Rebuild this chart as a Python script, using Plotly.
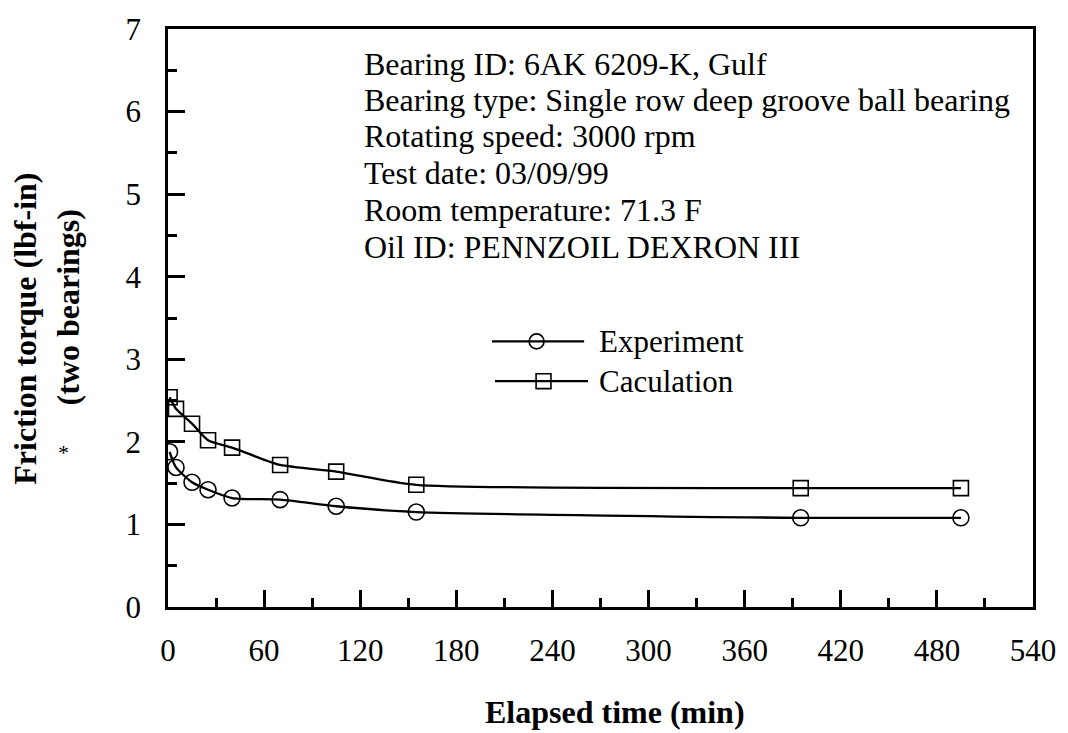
import plotly.graph_objects as go

# Data
time_exp = [1, 5, 15, 25, 40, 70, 105, 155, 395, 495]
torque_exp = [1.88, 1.69, 1.51, 1.42, 1.32, 1.30, 1.22, 1.15, 1.08, 1.08]
time_calc = [1, 5, 15, 25, 40, 70, 105, 155, 395, 495]
torque_calc = [2.54, 2.40, 2.22, 2.02, 1.93, 1.72, 1.64, 1.48, 1.44, 1.44]
info_lines = [
    "Bearing ID: 6AK 6209-K, Gulf",
    "Bearing type: Single row deep groove ball bearing",
    "Rotating speed: 3000 rpm",
    "Test date: 03/09/99",
    "Room temperature: 71.3 F",
    "Oil ID: PENNZOIL DEXRON III",
]
legend_names = ["Experiment", "Caculation"]

FONT = "Liberation Serif, Times New Roman, serif"
W, H = 1068, 733
L, R, T, B = 168, 1068 - 1041, 26, 733 - 607
PW, PH = W - L - R, H - T - B

def px(x):
    return (x - L) / PW

def py(y):
    return (H - B - y) / PH

fig = go.Figure()
fig.add_trace(go.Scatter(
    x=time_exp, y=torque_exp, mode="lines+markers", name=legend_names[0],
    line=dict(color="black", width=2.3, shape="spline", smoothing=0.6),
    marker=dict(symbol="circle-open", size=16, color="black", line=dict(width=1.6)),
    showlegend=False,
))
fig.add_trace(go.Scatter(
    x=time_calc, y=torque_calc, mode="lines+markers", name=legend_names[1],
    line=dict(color="black", width=2.3, shape="spline", smoothing=0.6),
    marker=dict(symbol="square-open", size=15, color="black", line=dict(width=1.6)),
    showlegend=False,
))

shapes = []
annotations = []

# manual legend
leg_rows = [(340, 495, 588, 540, "circle"), (380, 498, 592, 547, "rect")]
for (yy, x0, x1, xm, kind), name in zip(leg_rows, legend_names):
    shapes.append(dict(type="line", xref="paper", yref="paper",
                       x0=px(x0), x1=px(x1), y0=py(yy), y1=py(yy),
                       line=dict(color="black", width=2.3)))
    r = 7.5
    shapes.append(dict(type=kind, xref="paper", yref="paper",
                       x0=px(xm - r), x1=px(xm + r), y0=py(yy + r), y1=py(yy - r),
                       line=dict(color="black", width=1.6), fillcolor="rgba(0,0,0,0)"))
    annotations.append(dict(xref="paper", yref="paper", x=px(601), y=py(yy),
                            xanchor="left", yanchor="middle", showarrow=False,
                            text=name, font=dict(family=FONT, size=31, color="black")))

# info text block
row_y = [61, 97, 134, 171, 208, 245]
for yy, txt in zip(row_y, info_lines):
    annotations.append(dict(xref="paper", yref="paper", x=px(364), y=py(yy),
                            xanchor="left", yanchor="middle", showarrow=False,
                            text=txt, font=dict(family=FONT, size=32, color="black")))

# axis titles
annotations.append(dict(xref="paper", yref="paper", x=px(619), y=py(713),
                        xanchor="center", yanchor="middle", showarrow=False,
                        text="<b>Elapsed time (min)</b>",
                        font=dict(family=FONT, size=32, color="black")))
annotations.append(dict(xref="paper", yref="paper", x=px(24), y=py(327),
                        xanchor="center", yanchor="middle", showarrow=False, textangle=-90,
                        text="<b>Friction torque (lbf-in)</b>",
                        font=dict(family=FONT, size=32, color="black")))
annotations.append(dict(xref="paper", yref="paper", x=px(67), y=py(306),
                        xanchor="center", yanchor="middle", showarrow=False, textangle=-90,
                        text="<b>(two bearings)</b>",
                        font=dict(family=FONT, size=32, color="black")))
annotations.append(dict(xref="paper", yref="paper", x=px(63), y=py(452),
                        xanchor="center", yanchor="middle", showarrow=False,
                        text="*", font=dict(family=FONT, size=22, color="black")))

axis_common = dict(
    showline=True, linecolor="black", linewidth=2.5, mirror=True,
    ticks="inside", ticklen=17, tickwidth=2.5, tickcolor="black",
    showgrid=False, zeroline=False,
    tickfont=dict(family=FONT, size=31, color="black"),
)
fig.update_xaxes(range=[0, 540], tick0=0, dtick=60, ticklabelstandoff=14,
                 minor=dict(dtick=30, ticks="inside", ticklen=9, tickwidth=2.5, tickcolor="black"),
                 **axis_common)
fig.update_yaxes(range=[0, 7], tick0=0, dtick=1, ticklabelstandoff=18,
                 minor=dict(dtick=0.5, ticks="inside", ticklen=9, tickwidth=2.5, tickcolor="black"),
                 **axis_common)

fig.update_layout(
    width=W, height=H,
    margin=dict(l=L, r=R, t=T, b=B),
    plot_bgcolor="white", paper_bgcolor="white",
    shapes=shapes, annotations=annotations,
    font=dict(family=FONT, color="black"),
)
fig.write_html("out.html")
